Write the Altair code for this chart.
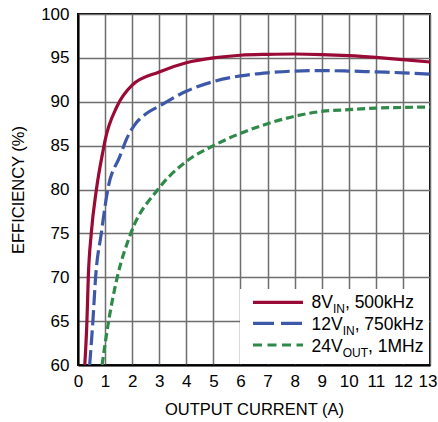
import altair as alt
import pandas as pd

# Efficiency vs. output current for three operating conditions
current_8vin = [0.25, 0.33, 0.38, 0.49, 0.68, 0.93, 1.0, 1.43, 2, 3, 4, 5, 6, 7, 8, 9, 10, 11, 12, 13]
eff_8vin = [60, 65, 70, 75, 80, 84.5, 85.6, 89.4, 91.9, 93.4, 94.45, 95.0, 95.3, 95.4, 95.44, 95.38, 95.25, 95.05, 94.8, 94.53]

current_12vin = [0.43, 0.55, 0.65, 0.86, 1.1, 1.55, 1.8, 2.1, 2.5, 3, 4, 5, 6, 7, 8, 9, 10, 11, 12, 13]
eff_12vin = [60, 65, 70, 75, 80, 83.8, 85.8, 87.4, 88.6, 89.5, 91.2, 92.3, 92.95, 93.3, 93.5, 93.55, 93.5, 93.4, 93.3, 93.15]

current_24vout = [0.89, 1.13, 1.45, 1.95, 2.95, 4, 5, 6, 7, 8, 9, 10, 11, 12, 13]
eff_24vout = [60, 65, 70, 75, 80, 83.2, 85.0, 86.4, 87.5, 88.35, 88.9, 89.1, 89.28, 89.35, 89.4]

x_ticks = list(range(0, 14))
y_ticks = [60, 65, 70, 75, 80, 85, 90, 95, 100]

# legend text: (main part, subscript, tail)
legend_main = ["8V", "12V", "24V"]
legend_sub = ["IN", "IN", "OUT"]
legend_tail = [", 500kHz", ", 750kHz", ", 1MHz"]

FONT = "Liberation Sans, Arial, Helvetica, sans-serif"
RED = "#9a0a36"
BLUE = "#3d58a8"
GREEN = "#2f8a4a"

# Arial / Liberation Sans advance widths (per 1000 em) for the legend glyphs
ADV = {"0": 556, "1": 556, "2": 556, "4": 556, "5": 556, "7": 556, "8": 556,
       "V": 667, "I": 278, "N": 722, "O": 778, "U": 722, "T": 611, "M": 833,
       "H": 722, ",": 278, " ": 278, "k": 500, "z": 500}


def text_width(s, size):
    return sum(ADV[c] for c in s) * size / 1000.0


x_scale = alt.Scale(domain=[0, 13], nice=False, zero=False)
y_scale = alt.Scale(domain=[60, 100], nice=False, zero=False)

last_tick = "datum.value == 13"
x_axis = alt.Axis(
    values=x_ticks,
    title="OUTPUT CURRENT (A)",
    format="d",
    labelAlign={"condition": {"test": last_tick, "value": "right"}, "value": "center"},
    labelOffset={"condition": {"test": last_tick, "value": 7}, "value": 0},
)
y_axis = alt.Axis(values=y_ticks, title="EFFICIENCY (%)", format="d")


def curve(xs, ys, color, dash=None):
    df = pd.DataFrame({"current": xs, "efficiency": ys})
    kw = dict(color=color, strokeWidth=3.2, interpolate="monotone", clip=True)
    if dash:
        kw["strokeDash"] = dash
    return alt.Chart(df).mark_line(**kw).encode(
        x=alt.X("current:Q", scale=x_scale, axis=x_axis),
        y=alt.Y("efficiency:Q", scale=y_scale, axis=y_axis),
    )


one = pd.DataFrame({"row": [0]})

layers = [
    curve(current_24vout, eff_24vout, GREEN, [8, 4]),
    curve(current_12vin, eff_12vin, BLUE, [15, 5]),
    curve(current_8vin, eff_8vin, RED),
]

# legend panel in the lower right of the plot
layers.append(
    alt.Chart(one).mark_rect(color="white").encode(
        x=alt.value(162), x2=alt.value(351), y=alt.value(275), y2=alt.value(350)
    )
)

swatch_colors = [RED, BLUE, GREEN]
swatch_dash = [None, [21, 7], [9, 5.5]]
line_y = [288.3, 309.3, 331]
main_base = [294.3, 316, 337.7]
text_left = 233.5
MAIN_SIZE = 17.5
SUB_SIZE = 12

for i in range(3):
    kw = dict(color=swatch_colors[i], strokeWidth=3.2)
    if swatch_dash[i]:
        kw["strokeDash"] = swatch_dash[i]
    layers.append(
        alt.Chart(one).mark_rule(**kw).encode(
            x=alt.value(175), x2=alt.value(225), y=alt.value(line_y[i])
        )
    )
    sub_left = text_left + text_width(legend_main[i], MAIN_SIZE)
    tail_left = sub_left + text_width(legend_sub[i], SUB_SIZE)
    pieces = [
        (legend_main[i], MAIN_SIZE, text_left, main_base[i]),
        (legend_sub[i], SUB_SIZE, sub_left, main_base[i] + 5),
        (legend_tail[i], MAIN_SIZE, tail_left, main_base[i]),
    ]
    for txt, size, left, base in pieces:
        layers.append(
            alt.Chart(one).mark_text(font=FONT, fontSize=size, align="left", baseline="alphabetic", color="black").encode(
                x=alt.value(left), y=alt.value(base), text=alt.value(txt)
            )
        )

chart = (
    alt.layer(*layers)
    .properties(
        width=352,
        height=351,
        autosize=alt.AutoSizeParams(type="none"),
        padding={"left": 78, "top": 14, "right": 8, "bottom": 57},
        background="white",
    )
    .configure_view(stroke="black", strokeWidth=2)
    .configure_axis(
        labelFont=FONT,
        titleFont=FONT,
        labelFontSize=17,
        titleFontSize=16.5,
        titleFontWeight="normal",
        labelColor="black",
        titleColor="black",
        ticks=False,
        domainColor="black",
        domainWidth=2,
        gridColor="#6e6e6e",
        gridWidth=1.5,
        gridOpacity=1,
    )
    .configure_axisX(labelPadding=8, titlePadding=12, labelFlush=False)
    .configure_axisY(labelPadding=9, titlePadding=14)
)

chart.save("out.html", embed_options={"renderer": "svg", "actions": False})
